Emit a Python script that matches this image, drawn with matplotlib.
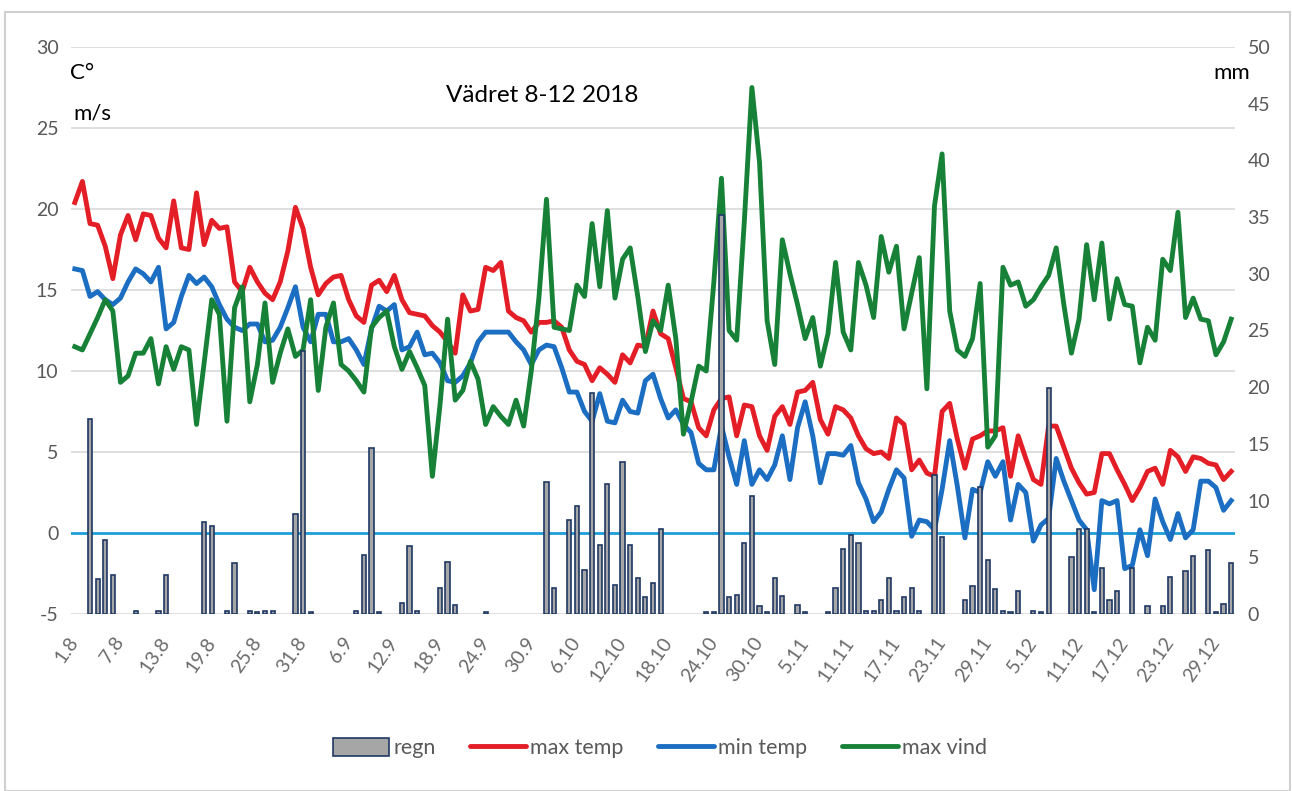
import numpy as np
import matplotlib.pyplot as plt
from matplotlib.patches import Rectangle, Patch
from matplotlib.lines import Line2D

plt.rcParams['font.family'] = ['Lato', 'DejaVu Sans']
plt.rcParams['axes.unicode_minus'] = False

# daily values 1.8 - 31.12 2018
max_temp = [20.4, 21.7, 19.1, 19.0, 17.7, 15.7, 18.4, 19.6, 18.1, 19.7,
            19.6, 18.2, 17.6, 20.5, 17.6, 17.5, 21.0, 17.8, 19.3, 18.8,
            18.9, 15.5, 14.9, 16.4, 15.5, 14.8, 14.4, 15.5, 17.4, 20.1,
            18.8, 16.4, 14.7, 15.4, 15.8, 15.9, 14.4, 13.4, 13.0, 15.3,
            15.6, 14.9, 15.9, 14.4, 13.6, 13.5, 13.4, 12.8, 12.4, 11.8,
            11.1, 14.7, 13.7, 13.8, 16.4, 16.2, 16.7, 13.7, 13.3, 13.1,
            12.4, 13.0, 13.0, 13.1, 12.7, 11.3, 10.6, 10.4, 9.4, 10.2,
            9.8, 9.3, 11.0, 10.5, 11.6, 11.5, 13.7, 12.3, 12.0, 10.2,
            8.3, 8.1, 6.5, 6.0, 7.6, 8.3, 8.4, 6.0, 7.9, 7.8,
            6.0, 5.1, 7.2, 7.8, 6.7, 8.7, 8.8, 9.3, 7.0, 6.1,
            7.8, 7.6, 7.1, 6.0, 5.2, 4.9, 5.0, 4.6, 7.1, 6.7,
            3.9, 4.5, 3.7, 3.5, 7.5, 8.0, 5.8, 4.0, 5.8, 6.0,
            6.3, 6.3, 6.5, 3.5, 6.0, 4.6, 3.3, 3.0, 6.6, 6.6,
            5.3, 4.0, 3.1, 2.4, 2.5, 4.9, 4.9, 3.9, 3.0, 2.0,
            2.8, 3.8, 4.0, 3.0, 5.1, 4.7, 3.8, 4.7, 4.6, 4.3,
            4.2, 3.3, 3.8]

min_temp = [16.3, 16.2, 14.6, 14.9, 14.4, 14.1, 14.5, 15.5, 16.3, 16.0,
            15.5, 16.4, 12.6, 13.0, 14.6, 15.9, 15.4, 15.8, 15.2, 14.1,
            13.2, 12.7, 12.5, 12.9, 12.9, 11.8, 11.9, 12.7, 13.9, 15.2,
            12.7, 11.8, 13.5, 13.5, 11.8, 11.8, 12.0, 11.3, 10.4, 12.6,
            14.0, 13.7, 14.1, 11.3, 11.5, 12.4, 11.0, 11.1, 10.5, 9.4,
            9.3, 9.7, 10.5, 11.8, 12.4, 12.4, 12.4, 12.4, 11.8, 11.3,
            10.4, 11.3, 11.6, 11.5, 10.2, 8.7, 8.7, 7.5, 6.9, 8.6,
            6.9, 6.8, 8.2, 7.5, 7.4, 9.4, 9.8, 8.3, 7.1, 7.6,
            6.7, 6.2, 4.3, 3.9, 3.9, 6.6, 4.7, 3.0, 5.7, 3.0,
            3.9, 3.3, 4.2, 6.0, 3.3, 6.5, 8.1, 6.0, 3.1, 4.9,
            4.9, 4.8, 5.4, 3.1, 2.1, 0.7, 1.3, 2.7, 3.9, 3.4,
            -0.2, 0.8, 0.7, 0.2, 2.7, 5.7, 2.9, -0.3, 2.7, 2.5,
            4.4, 3.5, 4.4, 0.8, 3.0, 2.5, -0.5, 0.5, 0.9, 4.6,
            3.2, 2.0, 0.8, 0.2, -3.5, 2.0, 1.8, 2.0, -2.2, -2.0,
            0.2, -1.4, 2.1, 0.7, -0.4, 1.2, -0.3, 0.2, 3.2, 3.2,
            2.8, 1.4, 2.0]

max_vind = [11.5, 11.3, 12.3, 13.3, 14.4, 13.7, 9.3, 9.7, 11.1, 11.1,
            12.0, 9.2, 11.5, 10.1, 11.5, 11.3, 6.7, 10.5, 14.4, 13.5,
            6.9, 13.9, 15.2, 8.1, 10.4, 14.2, 9.3, 11.1, 12.6, 10.9,
            11.3, 14.4, 8.8, 12.7, 14.2, 10.4, 10.0, 9.4, 8.7, 12.7,
            13.3, 13.7, 11.5, 10.1, 11.2, 10.2, 9.1, 3.5, 7.9, 13.2,
            8.2, 8.8, 10.6, 9.5, 6.7, 7.8, 7.2, 6.7, 8.2, 6.6,
            10.0, 14.5, 20.6, 12.7, 12.6, 12.5, 15.3, 14.6, 19.1, 15.2,
            19.9, 14.5, 16.9, 17.6, 14.6, 11.2, 13.1, 12.5, 15.3, 12.0,
            6.1, 8.1, 10.3, 10.0, 15.5, 21.9, 12.5, 11.9, 19.2, 27.5,
            22.9, 13.1, 10.4, 18.1, 16.0, 14.1, 12.0, 13.3, 10.3, 12.3,
            16.7, 12.4, 11.3, 16.7, 15.3, 13.3, 18.3, 16.1, 17.7, 12.6,
            14.8, 17.0, 8.9, 20.2, 23.4, 13.7, 11.3, 10.9, 12.0, 15.4,
            5.3, 6.0, 16.4, 15.3, 15.5, 14.0, 14.4, 15.2, 15.9, 17.6,
            14.1, 11.1, 13.2, 17.8, 14.4, 17.9, 13.2, 15.7, 14.1, 14.0,
            10.5, 12.7, 11.9, 16.9, 16.2, 19.8, 13.3, 14.5, 13.2, 13.1,
            11.0, 11.8, 13.2]

regn = [0, 0, 17.2, 3.1, 6.5, 3.4, 0, 0, 0.3, 0,
        0, 0.3, 3.4, 0, 0, 0, 0, 8.1, 7.8, 0,
        0.3, 4.5, 0, 0.3, 0.2, 0.3, 0.3, 0, 0, 8.8,
        23.2, 0.2, 0, 0, 0, 0, 0, 0.3, 5.2, 14.6,
        0.2, 0, 0, 1.0, 6.0, 0.3, 0, 0, 2.3, 4.6,
        0.8, 0, 0, 0, 0.2, 0, 0, 0, 0, 0,
        0, 0, 11.6, 2.3, 0, 8.3, 9.5, 3.9, 19.5, 6.1,
        11.5, 2.6, 13.4, 6.1, 3.2, 1.5, 2.7, 7.5, 0, 0,
        0, 0, 0, 0.2, 0.2, 35.2, 1.5, 1.7, 6.3, 10.4,
        0.7, 0.2, 3.2, 1.6, 0, 0.8, 0.2, 0, 0, 0.2,
        2.3, 5.7, 7.0, 6.3, 0.3, 0.3, 1.2, 3.2, 0.3, 1.5,
        2.3, 0.3, 0, 12.3, 6.8, 0, 0, 1.2, 2.5, 11.2,
        4.8, 2.2, 0.3, 0.2, 2.0, 0, 0.3, 0.2, 19.9, 0,
        0, 5.0, 7.5, 7.5, 0.2, 4.1, 1.2, 2.0, 0, 4.1,
        0, 0.7, 0, 0.7, 3.3, 0, 3.8, 5.1, 0, 5.6,
        0.2, 0.9, 4.5]

tick_labels = ['1.8', '7.8', '13.8', '19.8', '25.8', '31.8', '6.9', '12.9',
               '18.9', '24.9', '30.9', '6.10', '12.10', '18.10', '24.10',
               '30.10', '5.11', '11.11', '17.11', '23.11', '29.11', '5.12',
               '11.12', '17.12', '23.12', '29.12']
tick_step = 6

red = '#E41E26'
blue = '#1B6EC2'
green = '#178237'
gray_txt = '#595959'

days = np.arange(len(max_temp))
rain = np.array(regn)
wet = rain > 0  # days without rain get no bar at all

W, H = 1292, 791
fig = plt.figure(figsize=(W / 100, H / 100), dpi=100)
fig.patches.append(Rectangle((5 / W, 0), 1 - 7 / W, 1 - 12 / H, transform=fig.transFigure,
                             fill=False, edgecolor='#D0D0D0', lw=1.5))

ax = fig.add_axes([71 / W, 1 - 614 / H, 1164 / W, 567 / H])
ax2 = ax.twinx()

ax.set_xlim(-0.5, len(days) - 0.5)
ax.set_ylim(-5, 30)
ax2.set_ylim(0, 50)
ax.set_yticks(np.arange(-5, 31, 5))
ax2.set_yticks(np.arange(0, 51, 5))

ax.grid(axis='y', color='#D9D9D9', lw=1.2)
ax.set_axisbelow(True)
for a in (ax, ax2):
    for s in a.spines.values():
        s.set_visible(False)

ax.axhline(0, color='#1E9FD8', lw=2, zorder=2)
ax.plot(days, max_temp, color=red, lw=3.5, zorder=3)
ax.plot(days, min_temp, color=blue, lw=3.5, zorder=3)
ax.plot(days, max_vind, color=green, lw=3.5, zorder=3)

ax2.bar(days[wet], rain[wet], width=0.55, color='#A6A6A6', edgecolor='#1F3864', lw=1.2)

tick_pos = days[::tick_step][:len(tick_labels)]
ax.set_xticks(tick_pos)
ax.set_xticklabels(tick_labels, rotation=55, ha='right', va='center',
                   rotation_mode='anchor')
ax.tick_params(axis='x', length=0, pad=18, labelsize=14, labelcolor='#6b6b6b')
ax.tick_params(axis='y', length=0, pad=9, labelsize=14, labelcolor=gray_txt)
ax2.tick_params(axis='y', length=0, pad=9, labelsize=14, labelcolor=gray_txt)

fig.text(70 / W, 1 - 73 / H, 'C°', fontsize=16, va='center', ha='left')
fig.text(73 / W, 1 - 113 / H, 'm/s', fontsize=16, va='center', ha='left')
fig.text(1250 / W, 1 - 73 / H, 'mm', fontsize=16, va='center', ha='right')
fig.text(542 / W, 1 - 95 / H, 'Vädret 8-12 2018', fontsize=17.5, va='center', ha='center')

handles = [Patch(facecolor='#A6A6A6', edgecolor='#1F3864', lw=1.2),
           Line2D([], [], color=red, lw=3.5, solid_capstyle='round'),
           Line2D([], [], color=blue, lw=3.5, solid_capstyle='round'),
           Line2D([], [], color=green, lw=3.5, solid_capstyle='round')]
fig.legend(handles, ['regn', 'max temp', 'min temp', 'max vind'], loc='center',
           bbox_to_anchor=(660 / W, 1 - 748 / H), ncol=4, frameon=False,
           fontsize=15.5, labelcolor=gray_txt, handlelength=2.6, handleheight=0.9,
           handletextpad=0.2, columnspacing=1.6)

fig.savefig('out.png', dpi=100)
